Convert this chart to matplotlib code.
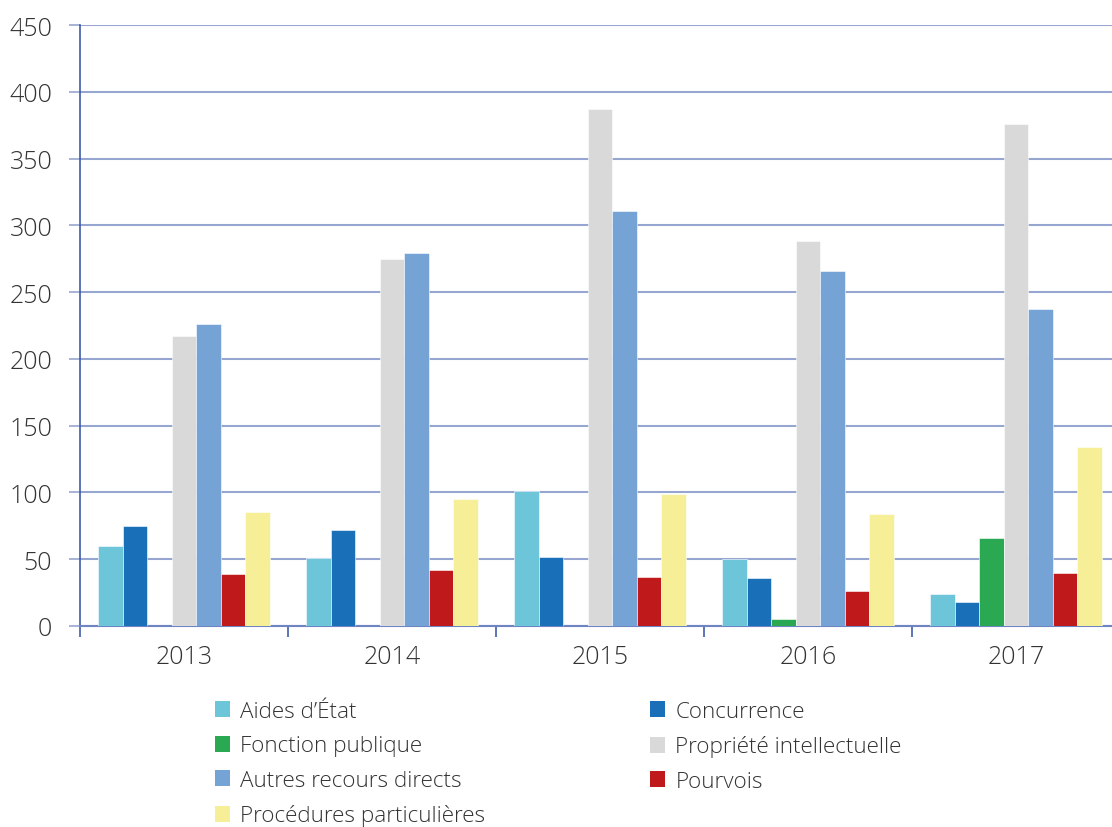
import numpy as np
import matplotlib
matplotlib.use("Agg")
import matplotlib.pyplot as plt
from matplotlib.patches import Patch

plt.rcParams['font.family'] = ['Open Sans', 'DejaVu Sans']

# data
years = ["2013", "2014", "2015", "2016", "2017"]
aides = [60, 51, 101, 50, 24]
concurrence = [75, 72, 52, 36, 18]
fonction = [0, 0, 0, 5, 66]
propriete = [217, 275, 387, 288, 376]
autres = [226, 279, 311, 266, 237]
pourvois = [39, 42, 37, 26, 40]
procedures = [85, 95, 99, 84, 134]

labels = ["Aides d\u2019État", "Concurrence", "Fonction publique",
          "Propriété intellectuelle", "Autres recours directs", "Pourvois",
          "Procédures particulières"]
colors = ["#6DC5D9", "#1A70B8", "#2AA952", "#D9D9D9", "#75A3D6", "#C0191B", "#F7EF98"]
series = [aides, concurrence, fonction, propriete, autres, pourvois, procedures]

text_col = "#333333"
axis_col = "#3F5BA9"
grid_col = "#97A6D1"

fig = plt.figure(figsize=(11.12, 8.28), dpi=100)
ax = fig.add_axes([80 / 1112, 201 / 828, 1040 / 1112, 601 / 828])

x = np.arange(len(years))
w = 0.118
for i, (vals, c) in enumerate(zip(series, colors)):
    ax.bar(x + (i - 3) * w, vals, width=w, color=c, edgecolor="white",
           linewidth=0.4, zorder=3)

ax.set_xlim(-0.5, 4.5)
ax.set_ylim(0, 450)
ax.set_yticks(range(0, 451, 50))
ax.yaxis.grid(True, color=grid_col, linewidth=1.5, zorder=0)
ax.set_axisbelow(True)

ax.set_xticks(x)
ax.set_xticklabels(years)
ax.set_xticks(np.arange(-0.5, 4.6, 1), minor=True)
ax.tick_params(axis='x', which='major', length=0, pad=13, labelsize=18, labelcolor=text_col)
ax.tick_params(axis='x', which='minor', length=8, width=1.2, color=axis_col)
ax.tick_params(axis='y', length=8, width=1.2, color=grid_col, pad=12, labelsize=18, labelcolor=text_col)

for s in ["top", "right"]:
    ax.spines[s].set_visible(False)
ax.spines["left"].set_color(axis_col)
ax.spines["left"].set_linewidth(1.2)
ax.spines["bottom"].set_color("#6F84C2")
ax.spines["bottom"].set_linewidth(1.5)

for lab in ax.get_xticklabels() + ax.get_yticklabels():
    lab.set_fontweight('light')

handles = [Patch(facecolor=c, edgecolor='none') for c in colors]
leg_kw = dict(frameon=False, handlelength=0.68, handleheight=0.72,
              handletextpad=0.45, labelspacing=0.6, borderpad=0, borderaxespad=0,
              loc='upper left', labelcolor=text_col,
              prop={'weight': 'light', 'size': 16.2})
left_idx = [0, 2, 4, 6]
right_idx = [1, 3, 5]
leg1 = fig.legend([handles[i] for i in left_idx], [labels[i] for i in left_idx],
                  bbox_to_anchor=(215 / 1112, 1 - 702 / 828), **leg_kw)
leg2 = fig.legend([handles[i] for i in right_idx], [labels[i] for i in right_idx],
                  bbox_to_anchor=(650 / 1112, 1 - 702 / 828), **leg_kw)

fig.savefig("out.png", dpi=100)
